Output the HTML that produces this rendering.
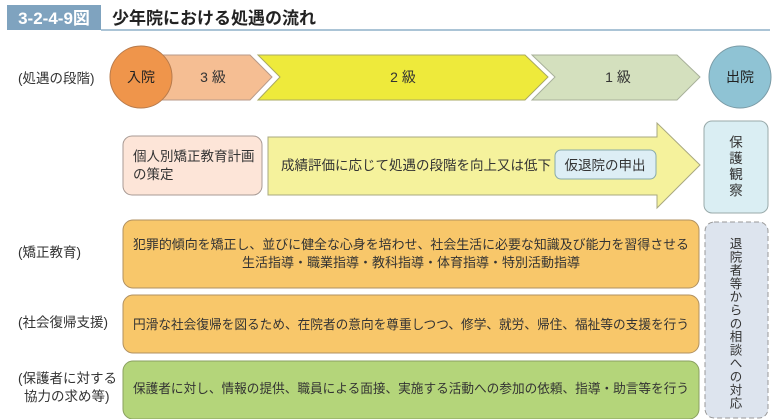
<!DOCTYPE html>
<html><head><meta charset="utf-8"><style>
html,body{margin:0;padding:0;background:#fff;}
svg{display:block;font-family:"Liberation Sans","Noto Sans CJK JP",sans-serif;}
</style></head><body>
<svg width="775" height="419" viewBox="0 0 775 419" xmlns="http://www.w3.org/2000/svg">
<rect x="7" y="5" width="94" height="25" fill="#7fa3bf"/>
<text x="54" y="24" font-size="17" font-weight="bold" fill="#fff" text-anchor="middle">3-2-4-9図</text>
<line x1="101" y1="30" x2="770" y2="30" stroke="#8fb0c8" stroke-width="1.5"/>
<text x="112" y="24" font-size="17" font-weight="bold" fill="#222">少年院における処遇の流れ</text>

<text x="18" y="83" font-size="13.5" fill="#333">(処遇の段階)</text>
<polygon points="140,55 250,55 272,77 250,100 140,100" fill="#f5be93" stroke="#b89a88" stroke-width="1"/>
<polygon points="258,55 525,55 548,77 525,100 258,100 280,77" fill="#eeea3b" stroke="#a9a960" stroke-width="1"/>
<polygon points="532,55 677,55 700,77 677,100 532,100 555,77" fill="#d4e0be" stroke="#a8b09a" stroke-width="1"/>
<circle cx="141" cy="77" r="31" fill="#ef954b" stroke="#b87b4c" stroke-width="1"/>
<text x="141" y="82" font-size="14" fill="#222" text-anchor="middle">入院</text>
<text x="213" y="82" font-size="14" fill="#333" text-anchor="middle">3 級</text>
<text x="403" y="82" font-size="14" fill="#333" text-anchor="middle">2 級</text>
<text x="618" y="82" font-size="14" fill="#333" text-anchor="middle">1 級</text>
<circle cx="740" cy="77" r="31" fill="#8fc3d4" stroke="#7a9ba6" stroke-width="1"/>
<text x="740" y="82" font-size="14" fill="#222" text-anchor="middle">出院</text>

<rect x="123" y="136" width="139" height="59" rx="9" fill="#fde5d8" stroke="#a89a94"/>
<text x="133" y="161" font-size="13.5" fill="#333">個人別矯正教育計画</text>
<text x="133" y="179" font-size="13.5" fill="#333">の策定</text>
<polygon points="268,137 657,137 657,123 700,165 657,208 657,195 268,195" fill="#f5f29c" stroke="#a8a880" stroke-width="1"/>
<text x="281" y="170" font-size="13.5" fill="#333">成績評価に応じて処遇の段階を向上又は低下</text>
<rect x="555" y="150" width="101" height="29" rx="6" fill="#ddeef5" stroke="#8aa"/>
<text x="605" y="170" font-size="13.5" fill="#333" text-anchor="middle">仮退院の申出</text>
<rect x="704" y="121" width="64" height="92" rx="8" fill="#daeef3" stroke="#9aa"/>
<text x="736" y="147" font-size="13.5" fill="#333" text-anchor="middle">保</text>
<text x="736" y="163" font-size="13.5" fill="#333" text-anchor="middle">護</text>
<text x="736" y="179" font-size="13.5" fill="#333" text-anchor="middle">観</text>
<text x="736" y="195" font-size="13.5" fill="#333" text-anchor="middle">察</text>

<text x="18" y="257" font-size="13.5" fill="#333">(矯正教育)</text>
<rect x="123" y="220" width="576" height="68" rx="10" fill="#f8c76a" stroke="#b09060"/>
<text x="133" y="249" font-size="13" fill="#333" textLength="556" lengthAdjust="spacingAndGlyphs">犯罪的傾向を矯正し、並びに健全な心身を培わせ、社会生活に必要な知識及び能力を習得させる</text>
<text x="411" y="267" font-size="13" fill="#333" text-anchor="middle">生活指導・職業指導・教科指導・体育指導・特別活動指導</text>

<text x="18" y="327" font-size="13.5" fill="#333">(社会復帰支援)</text>
<rect x="123" y="295" width="576" height="58" rx="10" fill="#f8c76a" stroke="#b09060"/>
<text x="133" y="329" font-size="13" fill="#333" textLength="556" lengthAdjust="spacingAndGlyphs">円滑な社会復帰を図るため、在院者の意向を尊重しつつ、修学、就労、帰住、福祉等の支援を行う</text>

<text x="18" y="383" font-size="13.5" fill="#333">(保護者に対する</text>
<text x="24" y="401" font-size="13.5" fill="#333">協力の求め等)</text>
<rect x="123" y="361" width="576" height="58" rx="10" fill="#b4d57a" stroke="#8aa060"/>
<text x="133" y="393" font-size="13" fill="#333" textLength="556" lengthAdjust="spacingAndGlyphs">保護者に対し、情報の提供、職員による面接、実施する活動への参加の依頼、指導・助言等を行う</text>

<rect x="705" y="222" width="63" height="196" rx="9" fill="#dde4ee" stroke="#999" stroke-dasharray="5,3"/>
<text font-size="12.5" fill="#333" text-anchor="middle">
<tspan x="736" y="248">退</tspan><tspan x="736" y="261.3">院</tspan><tspan x="736" y="274.6">者</tspan><tspan x="736" y="287.9">等</tspan><tspan x="736" y="301.2">か</tspan><tspan x="736" y="314.5">ら</tspan><tspan x="736" y="327.8">の</tspan><tspan x="736" y="341.1">相</tspan><tspan x="736" y="354.4">談</tspan><tspan x="736" y="367.7">へ</tspan><tspan x="736" y="381">の</tspan><tspan x="736" y="394.3">対</tspan><tspan x="736" y="407.6">応</tspan>
</text>
</svg>
</body></html>
